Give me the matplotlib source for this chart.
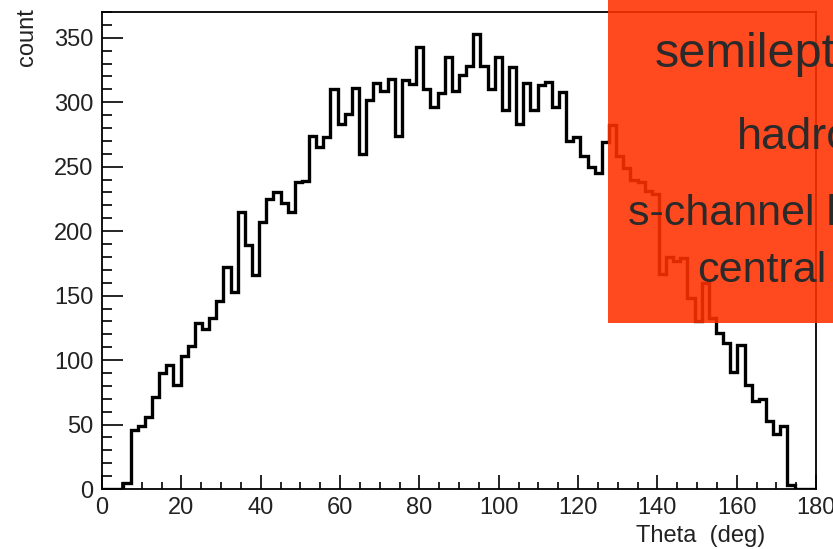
import numpy as np
import matplotlib
matplotlib.use("Agg")
import matplotlib.pyplot as plt
from matplotlib.patches import Rectangle
from matplotlib.ticker import MultipleLocator

plt.rcParams['font.family'] = ['Liberation Sans', 'DejaVu Sans']

# histogram: 100 bins of 1.8 deg from 0 to 180
bin_edges = np.linspace(0, 180, 101)
counts = [0, 0, 0, 5, 46, 49, 56, 71, 90, 96,
          81, 103, 111, 129, 124, 133, 146, 172, 153, 215,
          189, 166, 207, 225, 230, 222, 215, 238, 239, 274,
          265, 273, 310, 283, 291, 311, 260, 302, 315, 309,
          318, 274, 317, 314, 343, 310, 296, 307, 335, 309,
          321, 328, 353, 328, 310, 335, 294, 327, 283, 315,
          294, 313, 316, 296, 308, 270, 273, 258, 250, 245,
          269, 282, 258, 249, 240, 238, 231, 229, 167, 180,
          177, 179, 148, 130, 160, 133, 121, 113, 91, 112,
          81, 68, 70, 53, 43, 49, 3, 0, 0, 0]

box_lines = ["semileptonic", "hadronic", "s-channel l", "central"]

W, H = 833, 549
fig = plt.figure(figsize=(W / 100, H / 100), dpi=100)
ax = fig.add_axes([102 / W, 1 - 489 / H, (816 - 102) / W, (489 - 12) / H])

ax.stairs(counts, bin_edges, color='black', lw=2.4)
ax.set_xlim(0, 180)
ax.set_ylim(0, 370)

ax.xaxis.set_major_locator(MultipleLocator(20))
ax.xaxis.set_minor_locator(MultipleLocator(5))
ax.yaxis.set_major_locator(MultipleLocator(50))
ax.yaxis.set_minor_locator(MultipleLocator(10))
ax.tick_params(axis='y', which='major', direction='in', length=15, width=1.2, labelsize=17, pad=6)
ax.tick_params(axis='y', which='minor', direction='in', length=7.5, width=1.2)
ax.tick_params(axis='x', which='major', direction='in', length=10, width=1.2, labelsize=17, pad=6)
ax.tick_params(axis='x', which='minor', direction='in', length=5, width=1.2)
for s in ax.spines.values():
    s.set_linewidth(1.3)
for lab in ax.get_xticklabels() + ax.get_yticklabels():
    lab.set_color('#222222')

fig.text(765 / W, 1 - 536 / H, "Theta  (deg)", ha='right', va='center', fontsize=17, color='#222222')
fig.text(27 / W, 1 - 8 / H, "count", rotation=90, ha='center', va='top', fontsize=17, color='#222222')

# red overlay box in the top right corner
fig.add_artist(Rectangle((608 / W, 1 - 323 / H), (W - 608) / W, 323 / H,
                         transform=fig.transFigure, facecolor=(1.0, 0.19, 0.0),
                         alpha=0.88, edgecolor='none', zorder=5))
text_x = [655, 737, 628, 697]
text_base = [67, 149, 225, 282]
text_size = [35, 32.5, 31, 31]
for t, x, y, fs in zip(box_lines, text_x, text_base, text_size):
    fig.text(x / W, 1 - y / H, t, ha='left', va='baseline', fontsize=fs,
             color='#2a2a2a', zorder=6)

fig.savefig("out.png", dpi=100)
